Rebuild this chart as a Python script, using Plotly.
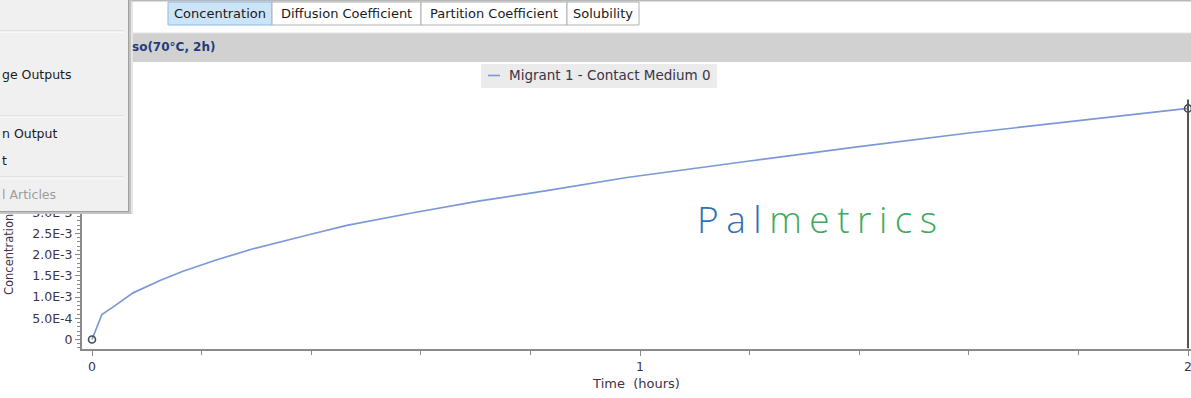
import plotly.graph_objects as go

# ---- data -------------------------------------------------------------
time_h = [0, 0.018, 0.042, 0.075, 0.124, 0.166, 0.228, 0.294, 0.392, 0.465,
          0.586, 0.708, 0.830, 0.976, 1.2, 1.4, 1.6, 1.8, 2.0]
conc = [0, 5.9e-4, 8.0e-4, 1.10e-3, 1.39e-3, 1.61e-3, 1.88e-3, 2.14e-3, 2.46e-3, 2.69e-3,
        2.99e-3, 3.27e-3, 3.51e-3, 3.82e-3, 4.21e-3, 4.55e-3, 4.87e-3, 5.16e-3, 5.45e-3]

x_tick_vals = [0, 1, 2]
y_tick_vals = [0, 5e-4, 1e-3, 1.5e-3, 2e-3, 2.5e-3, 3e-3]
y_tick_text = ["0", "5.0E-4", "1.0E-3", "1.5E-3", "2.0E-3", "2.5E-3", "3.0E-3"]

tabs = ["Concentration", "Diffusion Coefficient", "Partition Coefficient", "Solubility"]
series_name = "Migrant 1 - Contact Medium 0"
run_title = "so(70°C, 2h)"
menu_items = ["ge Outputs", "n Output", "t", "l Articles"]

# ---- page geometry ----------------------------------------------------
W, H = 1191, 398
FONT = "DejaVu Sans"
LINE_COLOR = "#7b98d8"
AXIS_COLOR = "#8a8a8a"
LABEL_COLOR = "#3d3348"


def PX(x):
    return x / W


def PY(y):
    return 1 - y / H


def rect(x0, y0, x1, y1, fill, line=None, lw=1, layer="above"):
    return dict(type="rect", xref="paper", yref="paper",
                x0=PX(x0), x1=PX(x1), y0=PY(y0), y1=PY(y1),
                fillcolor=fill, layer=layer,
                line=dict(color=line or fill, width=lw if line else 0))


def hline(x0, x1, y, color, lw=1):
    return dict(type="line", xref="paper", yref="paper",
                x0=PX(x0), x1=PX(x1), y0=PY(y), y1=PY(y),
                layer="above", line=dict(color=color, width=lw))


def vline(x, y0, y1, color, lw=1):
    return dict(type="line", xref="paper", yref="paper",
                x0=PX(x), x1=PX(x), y0=PY(y0), y1=PY(y1),
                layer="above", line=dict(color=color, width=lw))


def text(s, x, y, size=13, color="#1e1e1e", xanchor="left", **kw):
    return dict(text=s, x=PX(x), y=PY(y), xref="paper", yref="paper",
                xanchor=xanchor, yanchor="middle", showarrow=False,
                font=dict(family=FONT, size=size, color=color), **kw)


# plot area edges in page pixels
px_left, px_zero, px_two, px_right = 82, 92, 1188, 1191
py_top, py_zero, py_axis = 62, 339.5, 348.5
x_scale = (px_two - px_zero) / 2.0          # px per hour
y_scale = 42400.0                            # px per concentration unit

fig = go.Figure()

fig.add_trace(go.Scatter(
    x=time_h, y=conc, mode="lines", name=series_name,
    line=dict(color=LINE_COLOR, width=1.7), showlegend=False,
))
fig.add_trace(go.Scatter(
    x=[time_h[0], time_h[-1]], y=[conc[0], conc[-1]], mode="markers",
    marker=dict(symbol="circle-open", size=7, color="#4a4a4a", line=dict(width=1.6)),
    showlegend=False, hoverinfo="skip", cliponaxis=False,
))

shapes = []
# cursor line at the last sample
shapes.append(dict(type="line", xref="x", yref="y",
                   x0=time_h[-1], x1=time_h[-1],
                   y0=-(py_axis - py_zero) / y_scale, y1=conc[-1] + 2.1e-4,
                   layer="above", line=dict(color="#555555", width=2)))

# top tab strip
shapes.append(rect(0, 0, W, 1.5, "#b8b8b8"))
tab_edges = [168, 272, 421, 567, 639]
for i, name in enumerate(tabs):
    if i == 0:
        shapes.append(rect(tab_edges[i], 2, tab_edges[i + 1], 25, "#cce4f7", "#8fbbe6"))
    else:
        shapes.append(rect(tab_edges[i], 2, tab_edges[i + 1], 25, "#ffffff", "#b0b0b0"))

# grey run title bar
shapes.append(rect(0, 33, W, 62, "#d1d1d1"))
shapes.append(hline(0, W, 33, "#e4e4e4"))

# legend box
shapes.append(rect(481, 64, 717, 88, "#ebebeb"))
shapes.append(hline(488, 500, 75.5, LINE_COLOR, 1.6))

# context menu panel
shapes.append(rect(-2, -2, 128, 211, "#f0f0f0"))
shapes.append(vline(128.5, 0, 211.5, "#a0a0a0", 1))
shapes.append(vline(130, 0, 213, "#c4c4c4", 2))
shapes.append(vline(132, 2, 214, "#e6e6e6", 2))
shapes.append(hline(0, 129, 211.5, "#a0a0a0", 1))
shapes.append(hline(0, 131, 213, "#c4c4c4", 2))
for ys in (31, 116, 177):
    shapes.append(hline(0, 124, ys, "#d4d4d4", 1))
    shapes.append(hline(0, 124, ys + 1, "#ffffff", 1))

annotations = []
# y axis title, running upward from the bottom of the axis
annotations.append(dict(text="Concentration", x=PX(8.5), y=PY(297), xref="paper", yref="paper",
                        xanchor="center", yanchor="bottom", textangle=-90, showarrow=False,
                        font=dict(family=FONT, size=11.5, color=LABEL_COLOR)))
# run title
annotations.append(text("<b>" + run_title + "</b>", 130, 47.5, 12, "#1f3d7a"))

# tabs
for i, name in enumerate(tabs):
    annotations.append(text(name, (tab_edges[i] + tab_edges[i + 1]) / 2, 13.5, 13,
                            "#1a1a1a", xanchor="center"))

# menu items
annotations.append(text(menu_items[0], 0, 74, 12.5, "#1a1a1a"))
annotations.append(text(menu_items[1], 0, 133.5, 12.5, "#1a1a1a"))
annotations.append(text(menu_items[2], 0, 160.5, 12.5, "#1a1a1a"))
annotations.append(text(menu_items[3], 0, 195, 12.5, "#9c9c9c"))

# legend text
annotations.append(text(series_name, 507, 75.5, 13.5, "#3a3446"))

# watermark logo
annotations.append(dict(
    text=("<span style='color:#2f6fb6;letter-spacing:7.5px'>Pal</span>"
          "<span style='color:#3faa5e;letter-spacing:7.5px'>metrics</span>"),
    x=PX(821), y=PY(218), xref="paper", yref="paper", xanchor="center", yanchor="middle",
    showarrow=False, font=dict(family="Open Sans", size=37, weight=300),
))

fig.update_layout(
    width=W, height=H, autosize=False,
    margin=dict(l=0, r=0, t=0, b=0),
    paper_bgcolor="#ffffff", plot_bgcolor="#ffffff",
    shapes=shapes, annotations=annotations,
    xaxis=dict(
        domain=[PX(px_left), 1],
        range=[-(px_zero - px_left) / x_scale, 2 + (px_right - px_two) / x_scale],
        tickvals=x_tick_vals, ticktext=[str(v) for v in x_tick_vals],
        ticks="outside", ticklen=5, tickwidth=1, tickcolor=AXIS_COLOR,
        minor=dict(dtick=0.2, tick0=0, ticks="outside", ticklen=4, tickcolor=AXIS_COLOR),
        showline=True, linecolor=AXIS_COLOR, linewidth=2,
        showgrid=False, zeroline=False, ticklabeloverflow="allow",
        tickfont=dict(family=FONT, size=12.5, color=LABEL_COLOR),
        title=dict(text="Time\u00a0 (hours)", standoff=6,
                   font=dict(family=FONT, size=13, color=LABEL_COLOR)),
    ),
    yaxis=dict(
        domain=[PY(py_axis), PY(py_top)],
        range=[-(py_axis - py_zero) / y_scale, (py_zero - py_top) / y_scale],
        tickvals=y_tick_vals, ticktext=y_tick_text,
        ticks="outside", ticklen=5, tickwidth=1, tickcolor=AXIS_COLOR,
        minor=dict(dtick=1e-4, tick0=0, ticks="outside", ticklen=3, tickcolor=AXIS_COLOR),
        showline=True, linecolor=AXIS_COLOR, linewidth=2,
        showgrid=False, zeroline=False,
        tickfont=dict(family=FONT, size=12.5, color=LABEL_COLOR),
    ),
)

fig.write_html("out.html")
